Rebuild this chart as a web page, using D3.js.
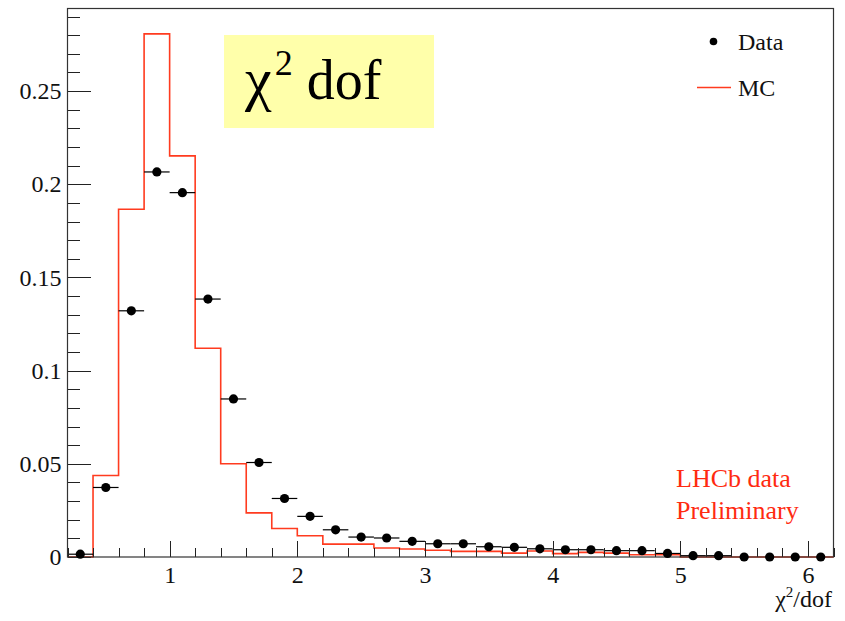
<!DOCTYPE html>
<html lang="en">
<head>
	<meta charset="utf-8">
	<title>chi2/dof</title>
	<script src="https://d3js.org/d3.v7.min.js"></script>
	<style type="text/css">
		body {
			margin: 0;
			background: white;
		}
		.axis path {
			display: none;
		}
		.axis line {
			stroke: #222;
			shape-rendering: crispEdges;
		}
	</style>
</head>
<body>
<script type="text/javascript">
// Bins of 0.2 in chi2/dof, from 0.2 to 6.2
var bin_lo = 0.2;
var bin_width = 0.2;
var bin_count = 30;

// Data points (normalised), one per bin
var data_values = [0.0015, 0.0373, 0.1321, 0.2066, 0.1955, 0.1384, 0.0848, 0.0507, 0.0314, 0.0218,
                   0.0146, 0.0107, 0.0102, 0.0084, 0.0071, 0.0071, 0.0055, 0.0052, 0.0044, 0.0039,
                   0.0039, 0.0034, 0.0034, 0.0019, 0.0007, 0.0007, 0, 0, 0, 0];

// MC histogram, one per bin
var mc_values = [0, 0.0437, 0.1866, 0.2807, 0.2152, 0.1120, 0.0500, 0.0237, 0.0153, 0.0114,
                 0.0069, 0.0069, 0.0048, 0.0043, 0.0036, 0.0030, 0.0030, 0.0021, 0.0032, 0.0018,
                 0.0025, 0.0021, 0.0012, 0.0012, 0, 0, 0, 0, 0, 0];

// Tick values
var x_major = [1, 2, 3, 4, 5, 6];
var x_minor = d3.range(0, 31).map(function(i) { return +(0.2 + i * 0.2).toFixed(1); });
var y_major = [0, 0.05, 0.1, 0.15, 0.2, 0.25];
var y_minor = d3.range(0, 30).map(function(i) { return +(i * 0.01).toFixed(2); });

var legend_labels = ["Data", "MC"];

var mc_colour = "#ff3b1f";
var serif = "'Liberation Serif', 'Times New Roman', Times, serif";

// Frame of the plot
var frame = {left: 67.5, top: 8.5, right: 833.5, bottom: 557};

var svg = d3.select("body")
			.append("svg")
			.attr("width", 845)
			.attr("height", 621)
			.style("font-family", serif);

var xScale = d3.scaleLinear()
				.domain([bin_lo, bin_lo + bin_count * bin_width])
				.range([frame.left, frame.right]);

var yScale = d3.scaleLinear()
				.domain([0, 0.2943])
				.range([frame.bottom, frame.top]);

// Title box
svg.append("rect")
	.attr("x", 224)
	.attr("y", 35)
	.attr("width", 210)
	.attr("height", 93)
	.style("fill", "#ffffaa");

var title = svg.append("text")
	.attr("x", 245)
	.attr("y", 99)
	.style("font-family", serif)
	.style("font-size", "56px")
	.style("fill", "#000");
title.append("tspan")
	.style("font-size", "60px")
	.text("\u03c7");
title.append("tspan")
	.attr("dy", -24)
	.attr("dx", 3)
	.style("font-size", "36px")
	.text("2");
title.append("tspan")
	.attr("dy", 24)
	.attr("dx", 14)
	.text("dof");

// MC histogram as a step line
var bins = d3.range(bin_count).map(function(i) {
	return {lo: bin_lo + i * bin_width, hi: bin_lo + (i + 1) * bin_width, mc: mc_values[i], data: data_values[i]};
});

var step_points = [];
bins.forEach(function(b, i) {
	if (i === 0) step_points.push([xScale(b.lo), yScale(0)]);
	step_points.push([xScale(b.lo), yScale(b.mc)]);
	step_points.push([xScale(b.hi), yScale(b.mc)]);
});
step_points.push([xScale(bins[bins.length - 1].hi), yScale(0)]);

svg.append("path")
	.attr("d", d3.line()(step_points))
	.style("fill", "none")
	.style("stroke", mc_colour)
	.style("stroke-width", 1.6);

// Horizontal error bars for data
svg.selectAll(".xerr")
	.data(bins.filter(function(b) { return b.data > 0; }))
	.enter()
	.append("line")
	.attr("class", "xerr")
	.attr("x1", function(d) { return xScale(d.lo); })
	.attr("x2", function(d) { return xScale(d.hi); })
	.attr("y1", function(d) { return yScale(d.data); })
	.attr("y2", function(d) { return yScale(d.data); })
	.style("stroke", "#000")
	.style("stroke-width", 1.2);

// Axes: ticks point inward
var yMinorAxis = d3.axisLeft(yScale)
	.tickValues(y_minor)
	.tickSize(-12)
	.tickFormat("");
var yAxis = d3.axisLeft(yScale)
	.tickValues(y_major)
	.tickSize(-23)
	.tickPadding(6)
	.tickFormat(function(d) { return d === 0 ? "0" : String(+d.toFixed(2)); });

svg.append("g")
	.attr("class", "axis")
	.attr("transform", "translate(" + frame.left + ",0)")
	.call(yMinorAxis);
svg.append("g")
	.attr("class", "axis")
	.attr("transform", "translate(" + frame.left + ",0)")
	.call(yAxis);

var xMinorAxis = d3.axisBottom(xScale)
	.tickValues(x_minor)
	.tickSize(-9)
	.tickFormat("");
var xAxis = d3.axisBottom(xScale)
	.tickValues(x_major)
	.tickSize(-16)
	.tickPadding(9)
	.tickFormat(d3.format("d"));

svg.append("g")
	.attr("class", "axis")
	.attr("transform", "translate(0," + frame.bottom + ")")
	.call(xMinorAxis);
svg.append("g")
	.attr("class", "axis")
	.attr("transform", "translate(0," + frame.bottom + ")")
	.call(xAxis);

// Use the serif font on all tick labels
svg.selectAll(".axis text")
	.style("font-family", serif)
	.style("font-size", "24px")
	.style("fill", "#111");

// Frame
svg.append("rect")
	.attr("x", frame.left)
	.attr("y", frame.top)
	.attr("width", frame.right - frame.left)
	.attr("height", frame.bottom - frame.top)
	.style("fill", "none")
	.style("stroke", "#333")
	.style("stroke-width", 1.2);

// Data markers
svg.selectAll(".dot")
	.data(bins)
	.enter()
	.append("circle")
	.attr("class", "dot")
	.attr("cx", function(d) { return xScale((d.lo + d.hi) / 2); })
	.attr("cy", function(d) { return yScale(d.data); })
	.attr("r", 4.6)
	.style("fill", "#000");

// Axis title
var xTitle = svg.append("text")
	.attr("x", 832)
	.attr("y", 607)
	.attr("text-anchor", "end")
	.style("font-family", serif)
	.style("font-size", "24px")
	.style("fill", "#111");
xTitle.append("tspan").text("\u03c7");
xTitle.append("tspan")
	.attr("dy", -10)
	.style("font-size", "15px")
	.text("2");
xTitle.append("tspan")
	.attr("dy", 10)
	.text("/dof");

// Legend
svg.append("circle")
	.attr("cx", 713.5)
	.attr("cy", 41.5)
	.attr("r", 3.8)
	.style("fill", "#000");
svg.append("line")
	.attr("x1", 697)
	.attr("x2", 731)
	.attr("y1", 87.5)
	.attr("y2", 87.5)
	.style("stroke", mc_colour)
	.style("stroke-width", 1.4);
svg.selectAll(".legend-label")
	.data(legend_labels)
	.enter()
	.append("text")
	.attr("class", "legend-label")
	.attr("x", 738)
	.attr("y", function(d, i) { return 50 + i * 46; })
	.style("font-family", serif)
	.style("font-size", "24px")
	.style("fill", "#111")
	.text(function(d) { return d; });

// LHCb label
svg.append("text")
	.attr("x", 676)
	.attr("y", 487)
	.style("font-family", serif)
	.style("font-size", "26px")
	.style("fill", "#ff2a10")
	.text("LHCb data");
svg.append("text")
	.attr("x", 676)
	.attr("y", 519)
	.style("font-family", serif)
	.style("font-size", "26px")
	.style("fill", "#ff2a10")
	.text("Preliminary");
</script>
</body>
</html>
